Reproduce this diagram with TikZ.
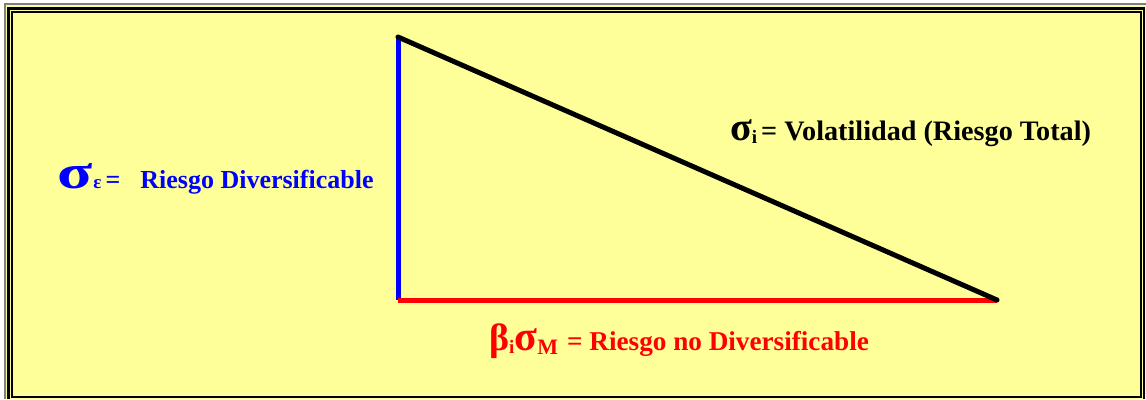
\documentclass[tikz,border=0pt]{standalone}
\usepackage{fontspec}
\setmainfont{Liberation Serif}
\usepackage{xcolor}
\usetikzlibrary{positioning}
\definecolor{paleyellow}{HTML}{FFFF99}

\begin{document}
\begin{tikzpicture}[
    x=1pt, y=-1pt,
    lbl/.style={anchor=base west, inner sep=0pt, font=\bfseries},
    side/.style={line width=5pt},
    frame/.style={line width=2.5pt}
]
    \useasboundingbox (0,0) rectangle (1146,399);
    % background and double frame
    \fill[paleyellow] (5,4) rectangle (1146,399);
    \draw[gray, line width=1.5pt] (5,399) -- (5,4) -- (1146,4);
    \draw[frame] (8.5,399) -- (8.5,8.5) -- (1144,8.5) -- (1144,399);
    \draw[frame] (12,12) rectangle (1141,397);

    % triangle corners
    \coordinate (top) at (398,37);
    \coordinate (corner) at (398,300);
    \coordinate (tip) at (997,300);

    \draw[side, blue] (top) -- (corner);
    \draw[side, red] (corner) -- (tip);
    \draw[side, black, line cap=round] (top) -- (tip);

    % labels
    \node[lbl, text=blue] (divlbl) at (57,188)
        {\scalebox{1.35}[1]{\fontsize{48}{48}\selectfont σ}\hspace{1pt}{\fontsize{19}{19}\selectfont ε}\hspace{4pt}{\fontsize{26}{26}\selectfont =\hspace{20pt}Riesgo Diversificable}};
    \node[lbl] (totlbl) at (730,140)
        {{\fontsize{40}{40}\selectfont σ}\raisebox{-3pt}{\fontsize{19}{19}\selectfont i}\hspace{4pt}{\fontsize{28.2}{28.2}\selectfont = Volatilidad (Riesgo Total)}};
    \node[lbl, text=red] (mktlbl) at (489,350)
        {{\fontsize{38}{38}\selectfont β}\raisebox{-3pt}{\fontsize{19}{19}\selectfont i}{\fontsize{42}{42}\selectfont σ}\raisebox{-4pt}{\fontsize{22}{22}\selectfont M}\hspace{9pt}{\fontsize{27.2}{27.2}\selectfont = Riesgo no Diversificable}};
\end{tikzpicture}
\end{document}
